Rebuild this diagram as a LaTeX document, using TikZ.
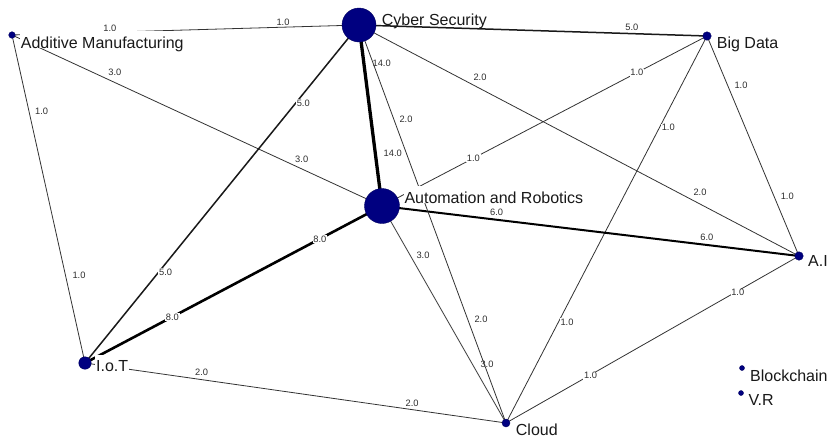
\documentclass[tikz,border=0pt]{standalone}
\usepackage{fontspec}
\setmainfont{Liberation Sans}
\definecolor{netnavy}{RGB}{0,0,128}
\pgfdeclarelayer{bg}
\pgfdeclarelayer{wires}
\pgfsetlayers{bg,wires,main}
\begin{document}
\begin{tikzpicture}[x=1pt,y=-1pt,
  nd/.style={circle,fill=netnavy,draw=netnavy!75!black,line width=0.4pt,inner sep=0pt},
  nlab/.style={anchor=base west,font=\fontsize{16}{18}\selectfont,text=black!90,
    fill=white,inner xsep=1pt,inner ysep=0pt,text height=17pt,text depth=0pt},
  elab/.style={font=\fontsize{9.3}{10}\selectfont,text=black!82,fill=white,inner sep=0.8pt},
  w1/.style={draw=black!80,line width=0.8pt},
  w5/.style={draw=black!90,line width=1.5pt},
  w6/.style={draw=black,line width=2pt},
  w8/.style={draw=black,line width=2.6pt},
  w14/.style={draw=black,line width=3.3pt}]
\begin{pgfonlayer}{bg}
  \fill[white] (0,0) rectangle (828,440);
\end{pgfonlayer}
\useasboundingbox (0,0) rectangle (828,440);

% actors
\node[nd,minimum size=6.6pt] (am)  at (12,35)   {};
\node[nd,minimum size=34pt]  (cs)  at (359,25)  {};
\node[nd,minimum size=8.5pt] (bd)  at (707,36)  {};
\node[nd,minimum size=35pt]  (ar)  at (382,206) {};
\node[nd,minimum size=8.5pt] (ai)  at (799,256) {};
\node[nd,minimum size=12.5pt](iot) at (85,363)  {};
\node[nd,minimum size=8pt]   (cl)  at (506,423) {};
\node[nd,minimum size=5pt]   (bc)  at (742,368) {};
\node[nd,minimum size=5pt]   (vr)  at (741,393) {};

% actor names
\node[nlab] (amt)  at (19.7,48.3)   {Additive Manufacturing};
\node[nlab] (cst)  at (380.7,25)    {Cyber Security};
\node[nlab] (bdt)  at (715.7,48.3)  {Big Data};
\node[nlab] (art)  at (403.3,203.3) {Automation and Robotics};
\node[nlab] (ait)  at (807,266.7)   {A.I};
\node[nlab] (iott) at (95,371.7)    {I.o.T};
\node[nlab] (clt)  at (514.7,435)   {Cloud};
\node[nlab] (bct)  at (749,381.7)   {Blockchain};
\node[nlab] (vrt)  at (747.3,405.7) {V.R};

% ties, weighted
\begin{pgfonlayer}{wires}
\draw[w1] (am.center) -- node[elab,pos=0.282,shift={(0,-4.2)}] {1.0}
                         node[elab,pos=0.781,shift={(0,-4.9)}] {1.0} (cs.center);
\draw[w1] (am.center) -- node[elab,pos=0.278,shift={(0,-9.9)}] {3.0}
                         node[elab,pos=0.783,shift={(0,-9.6)}] {3.0} (ar.center);
\draw[w1] (am.center) -- node[elab,pos=0.234,shift={(12.6,0)}] {1.0}
                         node[elab,pos=0.734,shift={(13.4,0)}] {1.0} (iot.center);
\draw[w5] (cs.center) -- node[elab,pos=0.232,shift={(7.8,0)}] {5.0}
                         node[elab,pos=0.732,shift={(7.2,0)}] {5.0} (iot.center);
\draw[w14] (cs.center) -- node[elab,pos=0.212,shift={(17.8,0)}] {14.0}
                          node[elab,pos=0.709,shift={(17.4,0)}] {14.0} (ar.center);
\draw[w5] (cs.center) -- node[elab,pos=0.784,shift={(0,-6.3)}] {5.0} (bd.center);
\draw[w1] (cs.center) -- node[elab,pos=0.275,shift={(0,-11.2)}] {2.0}
                         node[elab,pos=0.775,shift={(0,-11.3)}] {2.0} (ai.center);
\draw[w1] (bd.center) -- node[elab,pos=0.216] {1.0}
                         node[elab,pos=0.719] {1.0} (ar.center);
\draw[w1] (bd.center) -- node[elab,pos=0.237,shift={(8.9,0)}] {1.0}
                         node[elab,pos=0.739,shift={(8.5,0)}] {1.0} (cl.center);
\draw[w1] (bd.center) -- node[elab,pos=0.226,shift={(13.2,0)}] {1.0}
                         node[elab,pos=0.727,shift={(13.4,0)}] {1.0} (ai.center);
\draw[w6] (ar.center) -- node[elab,pos=0.275,shift={(0,-7.5)}] {6.0}
                         node[elab,pos=0.779,shift={(0,-7.7)}] {6.0} (ai.center);
\draw[w8] (ar.center) -- node[elab,pos=0.209] {8.0}
                         node[elab,pos=0.706] {8.0} (iot.center);
\draw[w1] (ar.center) -- node[elab,pos=0.226,shift={(13,0)}] {3.0}
                         node[elab,pos=0.728,shift={(14.7,0)}] {3.0} (cl.center);
\draw[w1] (iot.center) -- node[elab,pos=0.277,shift={(0,-7.3)}] {2.0}
                          node[elab,pos=0.777,shift={(0,-6.3)}] {2.0} (cl.center);
\draw[w1] (cl.center) -- node[elab,pos=0.289,shift={(0,1)}] {1.0}
                         node[elab,pos=0.791,shift={(0,1.8)}] {1.0} (ai.center);
\draw[w1] (cs.center) -- node[elab,pos=0.237,shift={(12.2,0)}] {2.0}
                         node[elab,pos=0.739,shift={(13.4,0)}] {2.0} (cl.center);
\end{pgfonlayer}
\end{tikzpicture}
\end{document}
